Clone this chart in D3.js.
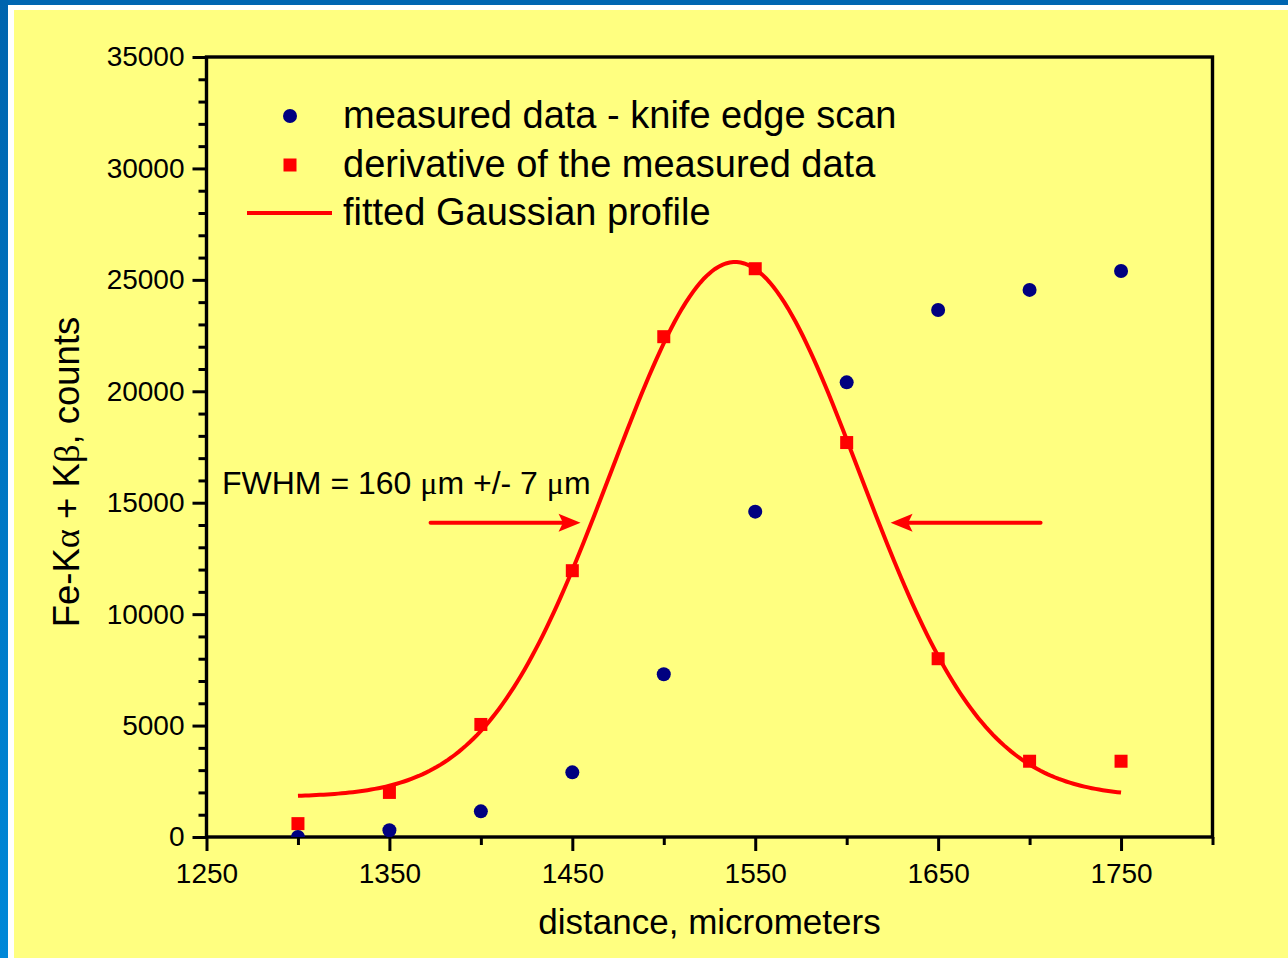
<!DOCTYPE html>
<html>
<head>
<meta charset="utf-8">
<script src="https://cdn.jsdelivr.net/npm/d3@7"></script>
<style>
  html, body { margin: 0; padding: 0; background: #ffff80; }
  svg { display: block; }
  text { font-family: "Liberation Sans", Arial, Helvetica, sans-serif; fill: #000; }
  .greek { font-family: "Liberation Serif", "DejaVu Serif", serif; }
</style>
</head>
<body>
<svg id="chart" width="1288" height="958"></svg>
<script>
// Scan positions (micrometers)
const distance = [1300, 1350, 1400, 1450, 1500, 1550, 1600, 1650, 1700, 1750];
// Knife-edge scan counts (Fe-Kα + Kβ)
const measuredCounts = [0, 300, 1150, 2900, 7300, 14600, 20400, 23650, 24550, 25400];
// Derivative of the knife-edge scan
const derivativeCounts = [600, 2000, 5050, 11950, 22450, 25500, 17700, 8000, 3400, 3400];

// Fitted Gaussian profile parameters
const fitCenter = 1539;
const fitAmplitude = 24000;
const fitBaseline = 1800;
const fitFWHM = 160;
const fitRange = [1300, 1750];

// Axis ticks
const xMajorTicks = [1250, 1350, 1450, 1550, 1650, 1750];
const xMinorTicks = [1300, 1400, 1500, 1600, 1700, 1800];
const yMajorTicks = [0, 5000, 10000, 15000, 20000, 25000, 30000, 35000];

const legendLabels = [
  "measured data - knife edge scan",
  "derivative of the measured data",
  "fitted Gaussian profile"
];

const W = 1288, H = 958;
const plot = { left: 206.5, right: 1212.5, top: 57, bottom: 837 };
const svg = d3.select("#chart");

// ---- page frame ----
const defs = svg.append("defs");
const grad = defs.append("linearGradient").attr("id", "sideBlue")
  .attr("x1", 0).attr("y1", 0).attr("x2", 0).attr("y2", 1);
grad.append("stop").attr("offset", "0%").attr("stop-color", "#0064ae");
grad.append("stop").attr("offset", "100%").attr("stop-color", "#0088d8");

svg.append("rect").attr("width", W).attr("height", H).attr("fill", "#ffff80");
svg.append("rect").attr("x", 0).attr("y", 0).attr("width", W).attr("height", 5).attr("fill", "#0066b2");
svg.append("rect").attr("x", 8).attr("y", 5).attr("width", W - 8).attr("height", 5).attr("fill", "#ffffff");
svg.append("rect").attr("x", 0).attr("y", 0).attr("width", 8).attr("height", H).attr("fill", "url(#sideBlue)");
svg.append("rect").attr("x", 8).attr("y", 5).attr("width", 6).attr("height", H - 5).attr("fill", "#ffffff");

// ---- scales ----
const x = d3.scaleLinear().domain([1250, 1800]).range([plot.left, plot.right]);
const y = d3.scaleLinear().domain([0, 35000]).range([plot.bottom, plot.top]);

defs.append("clipPath").attr("id", "plotClip").append("rect")
  .attr("x", plot.left).attr("y", plot.top)
  .attr("width", plot.right - plot.left).attr("height", plot.bottom - plot.top);

// ---- axes ----
function styleAxis(g) {
  g.select(".domain").remove();
  g.selectAll(".tick line").attr("stroke", "#000").attr("stroke-width", 3);
  g.selectAll(".tick text").style("font-size", "28px").attr("fill", "#000");
}

svg.append("g").attr("transform", `translate(0,${plot.bottom})`)
  .call(d3.axisBottom(x).tickValues(xMinorTicks).tickSize(8).tickFormat(""))
  .call(styleAxis);
svg.append("g").attr("transform", `translate(0,${plot.bottom})`)
  .call(d3.axisBottom(x).tickValues(xMajorTicks).tickSize(14).tickPadding(12).tickFormat(d3.format("d")))
  .call(styleAxis);

const yMinorTicks = d3.range(0, 35001, 1000).filter(v => v % 5000 !== 0);
svg.append("g").attr("transform", `translate(${plot.left},0)`)
  .call(d3.axisLeft(y).tickValues(yMinorTicks).tickSize(8).tickFormat(""))
  .call(styleAxis);
svg.append("g").attr("transform", `translate(${plot.left},0)`)
  .call(d3.axisLeft(y).tickValues(yMajorTicks).tickSize(14).tickPadding(8).tickFormat(d3.format("d")))
  .call(styleAxis);

// plot frame
svg.append("rect")
  .attr("x", plot.left).attr("y", plot.top)
  .attr("width", plot.right - plot.left).attr("height", plot.bottom - plot.top)
  .attr("fill", "none").attr("stroke", "#000").attr("stroke-width", 3.4);

// ---- axis titles ----
svg.append("text")
  .attr("x", (plot.left + plot.right) / 2).attr("y", 934)
  .attr("text-anchor", "middle").style("font-size", "35px")
  .text("distance, micrometers");

const yTitle = svg.append("text")
  .attr("transform", "translate(79,472) rotate(-90)")
  .attr("text-anchor", "middle").style("font-size", "36.5px");
yTitle.append("tspan").text("Fe-K");
yTitle.append("tspan").attr("class", "greek").text("α");
yTitle.append("tspan").text(" + K");
yTitle.append("tspan").attr("class", "greek").text("β");
yTitle.append("tspan").text(", counts");

// ---- data ----
const gData = svg.append("g").attr("clip-path", "url(#plotClip)");

const sigma = fitFWHM / (2 * Math.sqrt(2 * Math.log(2)));
const gauss = v => fitBaseline + fitAmplitude * Math.exp(-((v - fitCenter) ** 2) / (2 * sigma * sigma));
const fitX = d3.range(fitRange[0], fitRange[1] + 0.001, 2);

gData.append("path")
  .datum(fitX)
  .attr("d", d3.line().x(d => x(d)).y(d => y(gauss(d))).curve(d3.curveLinear))
  .attr("fill", "none").attr("stroke", "#ff0000").attr("stroke-width", 4);

const sq = 13;
gData.selectAll("rect.deriv")
  .data(distance.map((d, i) => [d, derivativeCounts[i]]))
  .join("rect").attr("class", "deriv")
  .attr("x", d => x(d[0]) - sq / 2).attr("y", d => y(d[1]) - sq / 2)
  .attr("width", sq).attr("height", sq).attr("fill", "#ff0000");

gData.selectAll("circle.meas")
  .data(distance.map((d, i) => [d, measuredCounts[i]]))
  .join("circle").attr("class", "meas")
  .attr("cx", d => x(d[0])).attr("cy", d => y(d[1]))
  .attr("r", 7).attr("fill", "#000080");

// ---- legend ----
const legend = svg.append("g");
const rowY = [116, 165, 213];
legend.append("circle").attr("cx", 290).attr("cy", rowY[0]).attr("r", 7).attr("fill", "#000080");
legend.append("rect").attr("x", 290 - sq / 2).attr("y", rowY[1] - sq / 2)
  .attr("width", sq).attr("height", sq).attr("fill", "#ff0000");
legend.append("line").attr("x1", 247).attr("x2", 332).attr("y1", rowY[2]).attr("y2", rowY[2])
  .attr("stroke", "#ff0000").attr("stroke-width", 4);
legendLabels.forEach((t, i) => {
  legend.append("text").attr("x", 343).attr("y", rowY[i] + 12)
    .style("font-size", "38px").text(t);
});

// ---- FWHM annotation ----
const note = svg.append("text").attr("x", 222).attr("y", 494).style("font-size", "32px");
note.append("tspan").text("FWHM = 160 ");
note.append("tspan").attr("class", "greek").text("μ");
note.append("tspan").text("m +/- 7 ");
note.append("tspan").attr("class", "greek").text("μ");
note.append("tspan").text("m");

// arrows pointing at the profile's half-height flanks
const arrowLevel = 14100;
function arrow(fromV, toV) {
  const x0 = x(fromV), x1 = x(toV), ay = y(arrowLevel);
  const dir = Math.sign(x1 - x0);
  const headLen = 22, headHalf = 9;
  svg.append("line")
    .attr("x1", x0).attr("x2", x1 - dir * headLen * 0.8)
    .attr("y1", ay).attr("y2", ay)
    .attr("stroke", "#ff0000").attr("stroke-width", 4).attr("stroke-linecap", "round");
  svg.append("path")
    .attr("d", `M${x1},${ay} L${x1 - dir * headLen},${ay - headHalf} L${x1 - dir * headLen * 0.8},${ay} L${x1 - dir * headLen},${ay + headHalf} Z`)
    .attr("fill", "#ff0000");
}
arrow(1372.5, 1454.5);
arrow(1706, 1624);
</script>
</body>
</html>
